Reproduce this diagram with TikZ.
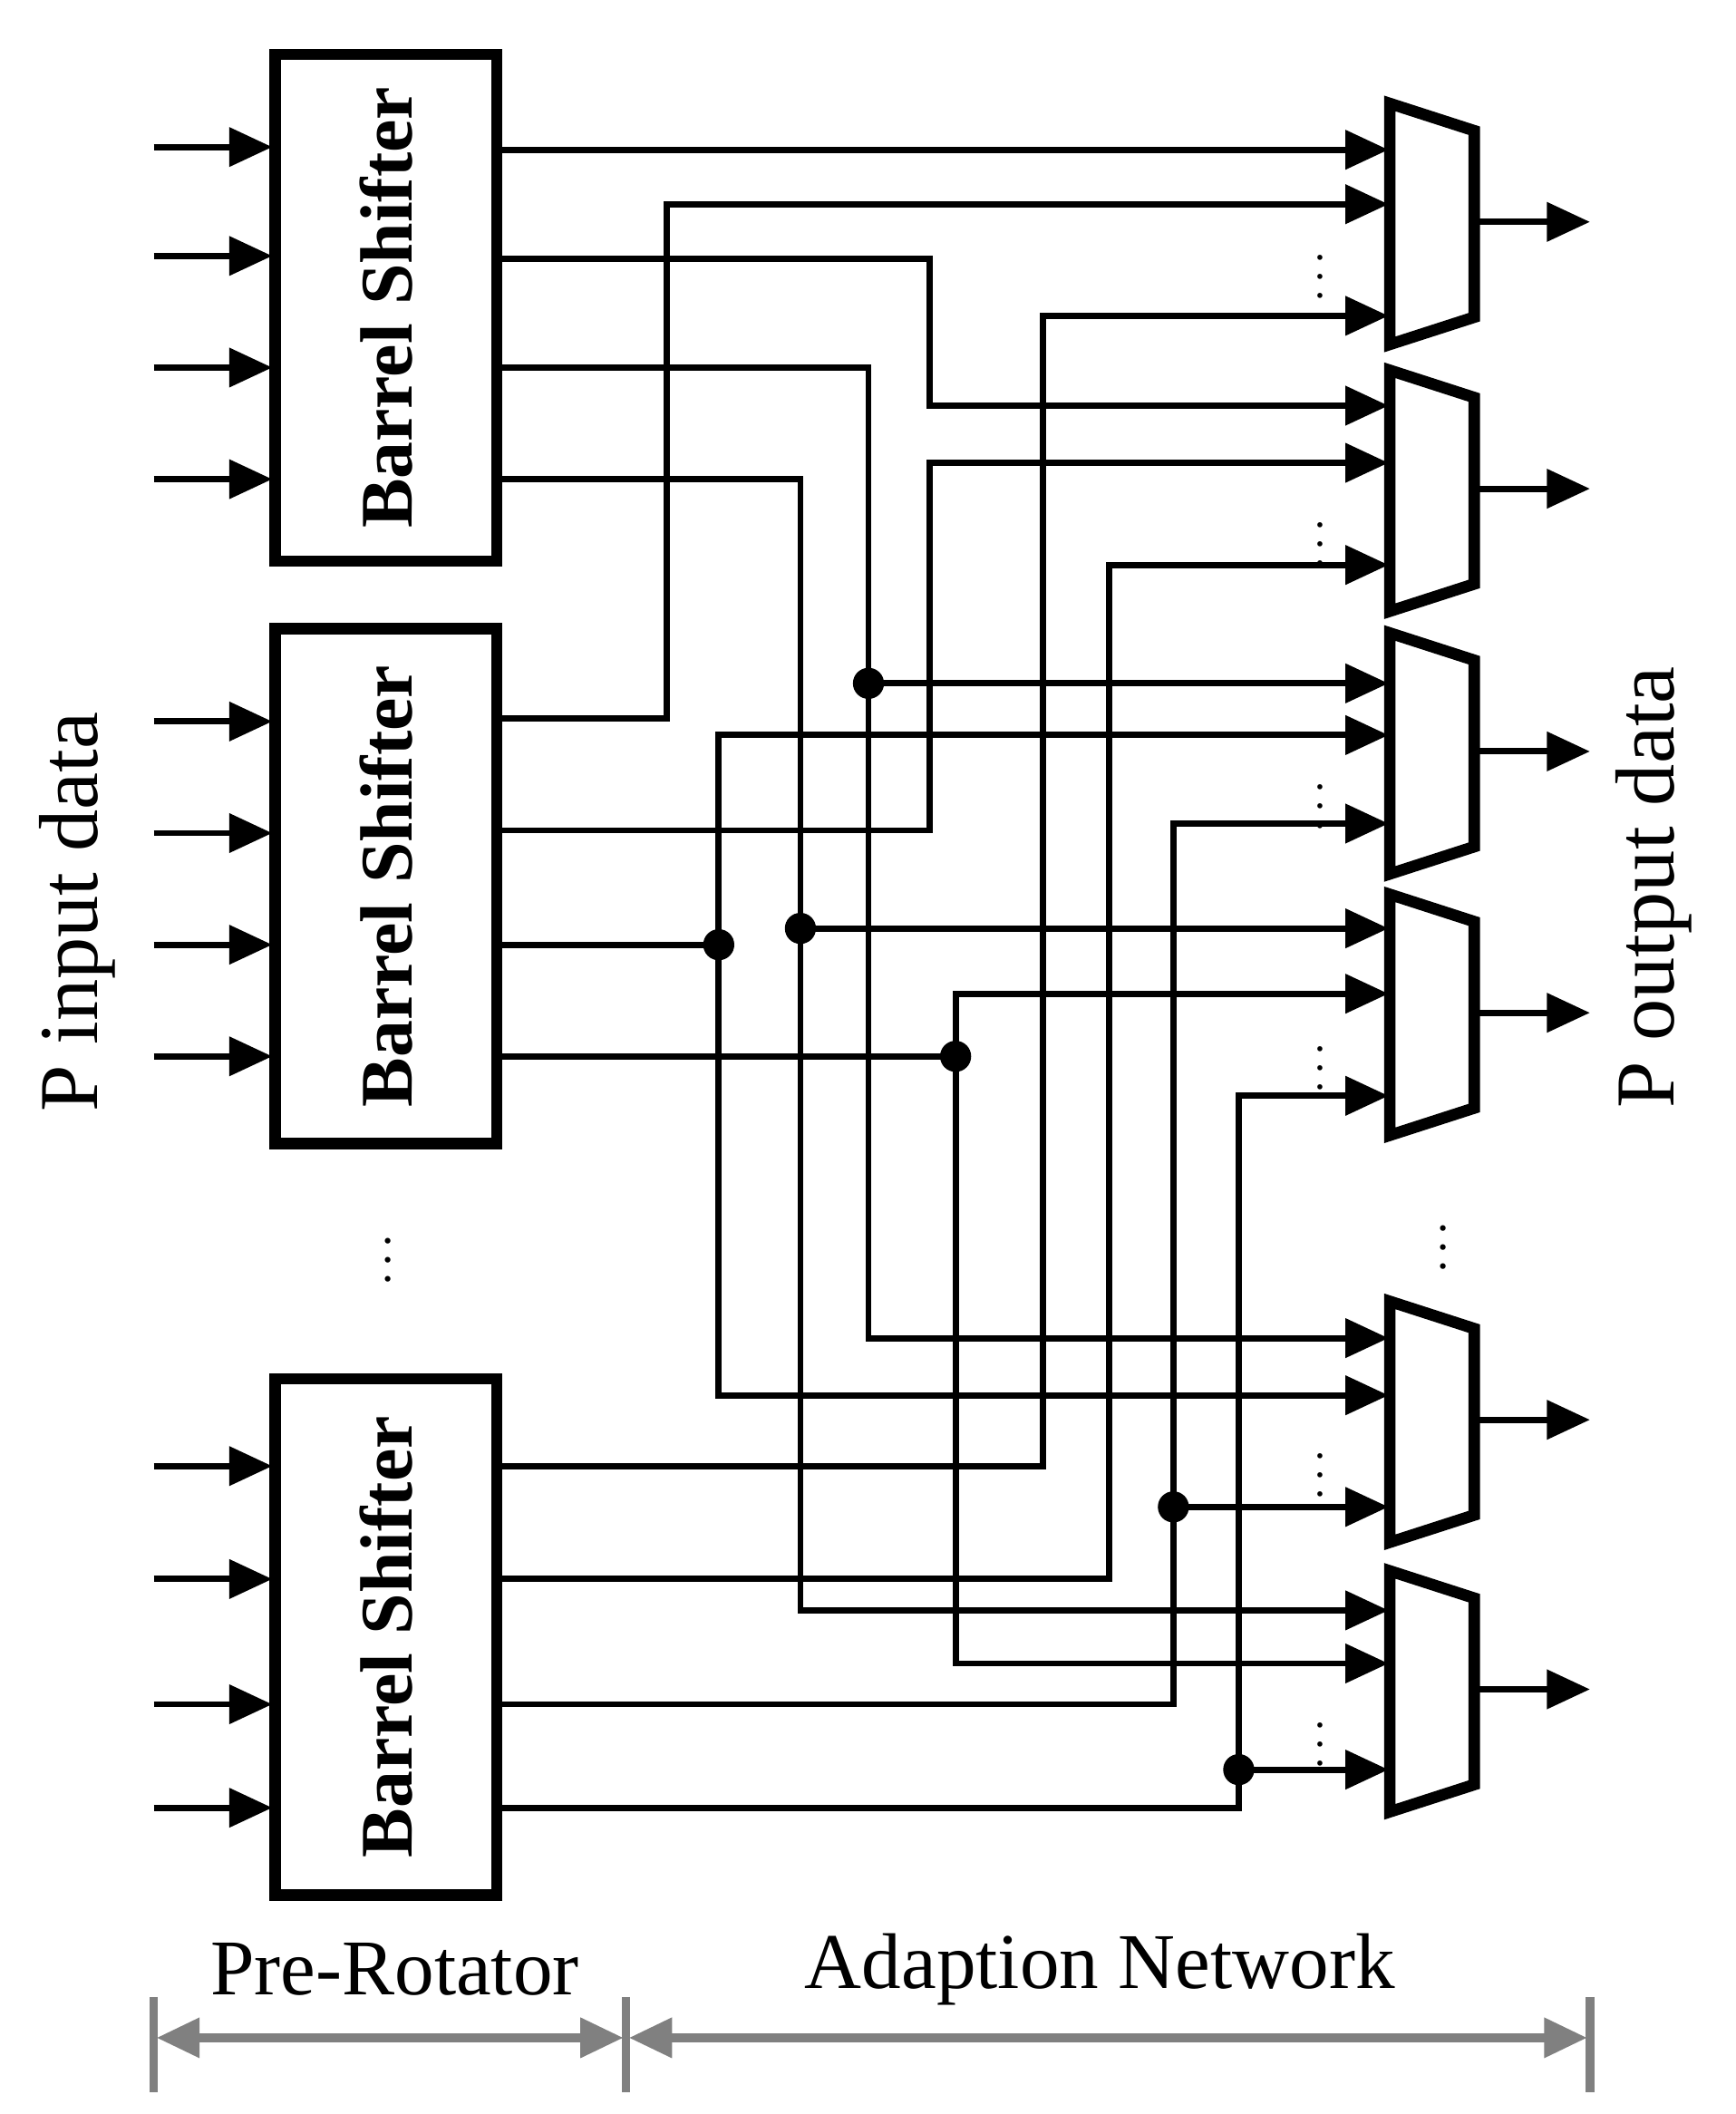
\documentclass[tikz,border=0pt]{standalone}
\usepackage{fontspec}
\setmainfont{Liberation Serif}
\usetikzlibrary{arrows.meta}
\begin{document}
\begin{tikzpicture}[x=0.01cm,y=-0.01cm,
 w/.style={line width=1.3pt},
 a/.style={w,-{Triangle[length=9pt,width=8pt]}},
 bs/.style={draw,line width=2.4pt,minimum width=1.63cm,inner sep=0pt},
 jd/.style={circle,fill,inner sep=0pt,minimum size=6.5pt},
 mux/.style={line width=2.4pt},
 g/.style={draw=gray,line width=1.8pt}]
\useasboundingbox (0,0) rectangle (1275,1553);
% barrel shifters
\node[bs,minimum height=3.72cm] (b1) at (283.5,226) {};
\node[bs,minimum height=3.78cm] (b2) at (283.5,651) {};
\node[bs,minimum height=3.79cm] (b3) at (283.5,1202.5) {};
\foreach \n in {b1,b2,b3}
  \node[rotate=90,font=\bfseries\fontsize{15.5}{18}\selectfont] at (\n) {Barrel Shifter};
% inputs
\foreach \y in {108,188,270,352,530,612,694,776,1077,1160,1252,1328}
  \draw[a] (113,\y) coordinate (i\y) -- (200,\y);
% muxes
\foreach \n/\c in {m1/163,m2/359,m3/552,m4/744,m5/1043,m6/1241}{
  \draw[mux] (1021,\c-87) -- (1083,\c-67) -- (1083,\c+70) -- (1021,\c+90) -- cycle;
  \coordinate (\n) at (1083,\c);
  \draw[a] (\n) -- (1168,\c);
  \node[font=\small,inner sep=0pt] at (970,\c+30) {$\vdots$};
}
% wires
\draw[a] (365,110) -- (1020,110);
\draw[a] (365,190) -- (683,190) -- (683,298) -- (1020,298);
\draw[a] (365,270) -- (638,270) -- (638,983) -- (1020,983);
\node[jd] (j1) at (638,502) {}; \draw[a] (j1.center) -- (1020,502);
\draw[a] (365,352) -- (588,352) -- (588,1183) -- (1020,1183);
\node[jd] (j2) at (588,682) {}; \draw[a] (j2.center) -- (1020,682);
\draw[a] (365,528) -- (490,528) -- (490,150) -- (1020,150);
\draw[a] (365,610) -- (683,610) -- (683,340) -- (1020,340);
\node[jd] (j3) at (528,694) {};
\draw[w] (365,694) -- (j3.center);
\draw[a] (528,1025) -- (528,540) -- (1020,540);
\draw[a] (528,694) -- (528,1025) -- (1020,1025);
\node[jd] (j4) at (702,776) {};
\draw[w] (365,776) -- (j4.center);
\draw[a] (702,1222) -- (702,730) -- (1020,730);
\draw[a] (702,776) -- (702,1222) -- (1020,1222);
\draw[a] (365,1077) -- (766,1077) -- (766,232) -- (1020,232);
\draw[a] (365,1160) -- (815,1160) -- (815,415) -- (1020,415);
\draw[a] (365,1252) -- (862,1252) -- (862,605) -- (1020,605);
\node[jd] (j5) at (862,1107) {}; \draw[a] (j5.center) -- (1020,1107);
\draw[a] (365,1328) -- (910,1328) -- (910,805) -- (1020,805);
\node[jd] (j6) at (910,1300) {}; \draw[a] (j6.center) -- (1020,1300);
% labels
\node[rotate=90,font=\fontsize{17.5}{20}\selectfont] (pin) at (57,670) {P input data};
\node[rotate=90,font=\fontsize{17.5}{20}\selectfont] (pout) at (1215,652) {P output data};
\node[inner sep=0pt] (d1) at (285,915) {$\vdots$};
\node[inner sep=0pt] (d2) at (1060,906) {$\vdots$};
\node[font=\fontsize{16.5}{20}\selectfont] (pr) at (290,1447) {Pre-Rotator};
\node[font=\fontsize{16.5}{20}\selectfont] (an) at (808,1447) {Adaption Network};
\foreach \x in {113,460,1168} \draw[g] (\x,1467) -- (\x,1537);
\draw[g,{Triangle[length=9pt,width=8pt]}-{Triangle[length=9pt,width=8pt]}] (115,1497) -- (458,1497);
\draw[g,{Triangle[length=9pt,width=8pt]}-{Triangle[length=9pt,width=8pt]}] (462,1497) -- (1166,1497);
\end{tikzpicture}
\end{document}
